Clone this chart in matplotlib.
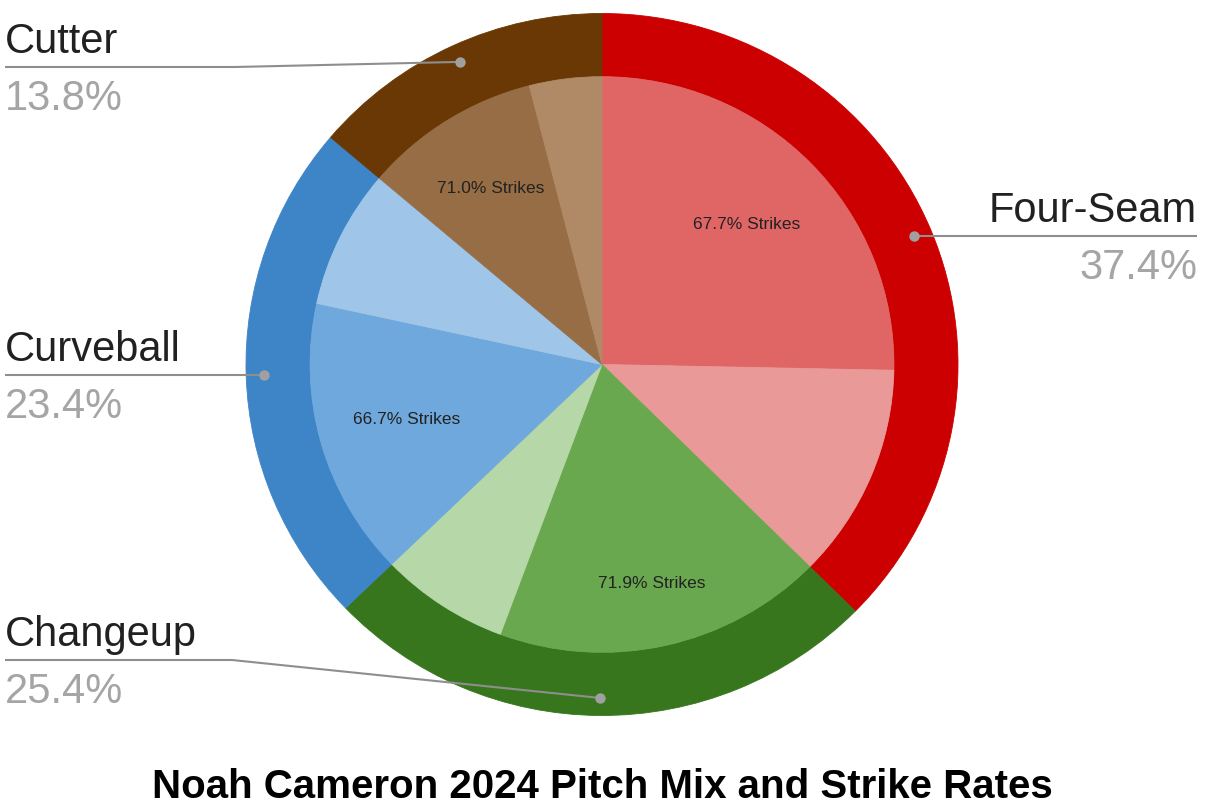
import numpy as np
import matplotlib.pyplot as plt

# pitch mix data (share of pitches, %) and strike rate per pitch (%)
pitches = ["Four-Seam", "Changeup", "Curveball", "Cutter"]
usage = [37.4, 25.4, 23.4, 13.8]
strike_rate = [67.7, 71.9, 66.7, 71.0]

outer_colors = ["#CC0000", "#38761D", "#3D85C6", "#693804"]
strike_colors = ["#E06666", "#6AA84F", "#6FA8DC", "#966D44"]
ball_colors = ["#EA9999", "#B6D7A8", "#9FC5E8", "#B08A66"]

plt.rcParams['font.family'] = ['Liberation Sans', 'DejaVu Sans']

W, H = 1217, 808
fig = plt.figure(figsize=(W / 100, H / 100), dpi=100)
fig.patch.set_facecolor('white')

# pie area in pixels: centre (602, 364.5), radii 356 x 351
cx, cy, rx, ry = 602, 364.5, 356, 351
ax = fig.add_axes([(cx - rx) / W, (H - cy - ry) / H, 2 * rx / W, 2 * ry / H])

inner_r = 0.82
outer_w, _ = ax.pie(usage, radius=1.0, startangle=90, counterclock=False,
                    colors=outer_colors, wedgeprops=dict(width=1.0 - inner_r))

inner_vals, inner_cols = [], []
for u, s, sc, bc in zip(usage, strike_rate, strike_colors, ball_colors):
    inner_vals += [u * s / 100, u * (100 - s) / 100]
    inner_cols += [sc, bc]
inner_w, _ = ax.pie(inner_vals, radius=inner_r, startangle=90, counterclock=False,
                    colors=inner_cols)
for w in list(outer_w) + list(inner_w):
    w.set_edgecolor(w.get_facecolor())
    w.set_linewidth(0.6)

ax.set_aspect('auto')
ax.set_xlim(-1, 1)
ax.set_ylim(-1, 1)
ax.axis('off')

# strike labels inside the strike wedges
label_r = [0.57, 0.64, 0.57, 0.59]
for i, s in enumerate(strike_rate):
    w = inner_w[2 * i]
    mid = np.deg2rad((w.theta1 + w.theta2) / 2)
    ax.text(label_r[i] * np.cos(mid), label_r[i] * np.sin(mid), f"{s:.1f}% Strikes",
            ha='center', va='center', fontsize=12.5, color='#222222')

# overlay in pixel coordinates for callouts
ov = fig.add_axes([0, 0, 1, 1], zorder=5)
ov.set_xlim(0, W)
ov.set_ylim(H, 0)
ov.axis('off')

fig.canvas.draw()
to_px = ax.transData + ov.transData.inverted()

# callout layout: text side, text x, elbow (x, y) or None
callouts = {
    "Four-Seam": ('right', 1197, None),
    "Changeup": ('left', 5, (232, 660)),
    "Curveball": ('left', 5, None),
    "Cutter": ('left', 5, (235, 67)),
}
line_col = '#8e8e8e'
for i, name in enumerate(pitches):
    w = outer_w[i]
    mid = np.deg2rad((w.theta1 + w.theta2) / 2)
    dx, dy = to_px.transform((0.95 * np.cos(mid), 0.95 * np.sin(mid)))
    side, tx, elbow = callouts[name]
    if elbow is None:
        ly = dy
        xs, ys = [tx, dx], [ly, ly]
    else:
        ly = elbow[1]
        xs, ys = [tx, elbow[0], dx], [ly, ly, dy]
    ov.plot(xs, ys, color=line_col, lw=1.5, solid_capstyle='butt')
    ov.plot([dx], [dy], 'o', ms=7.5, color='#a0a0a0', mec='none')
    ov.text(tx, ly - 14, name, ha=side, va='baseline', fontsize=30, color='#212121')
    ov.text(tx, ly + 43, f"{usage[i]:.1f}%", ha=side, va='baseline', fontsize=30,
            color='#a5a5a5')

ov.text(602, 798, "Noah Cameron 2024 Pitch Mix and Strike Rates", ha='center',
        va='baseline', fontsize=29, fontweight='bold', color='#000000')

fig.savefig("out.png", dpi=100, facecolor='white')
